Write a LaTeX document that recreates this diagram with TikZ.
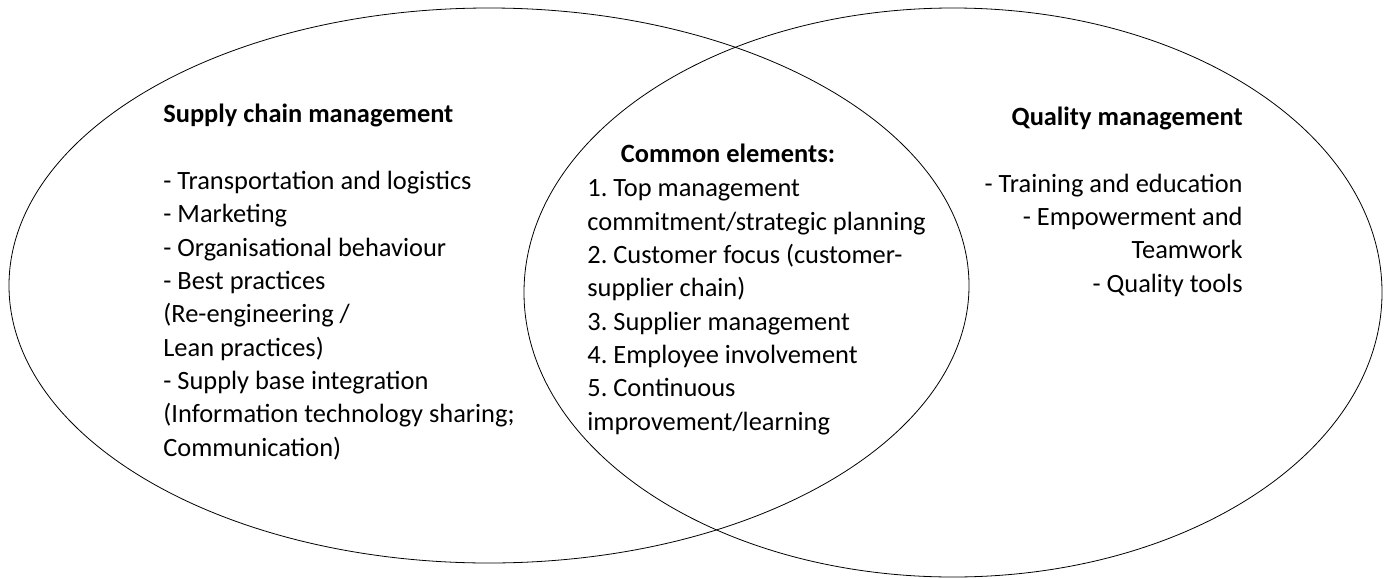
\documentclass[tikz,border=0pt]{standalone}
\usepackage{fontspec}
\setmainfont{Carlito}
\usepackage{tikz}
\frenchspacing

\begin{document}
\begin{tikzpicture}[x=0.75pt, y=-0.75pt, line width=0.6pt,
  txt/.style={inner sep=0pt, font=\fontsize{19.8}{25}\selectfont},
  hd/.style={txt, font=\fontsize{19.8}{25}\selectfont\bfseries}]
  \useasboundingbox (0,0) rectangle (1387,578);
  % the two sets
  \draw (489,285.5) ellipse [x radius=480, y radius=277.5];
  \draw (953,292.5) ellipse [x radius=429, y radius=284.5];
  % supply chain side (lists sit on the baseline of their last line)
  \node[hd, anchor=base west] (scm) at (163,122) {Supply chain management};
  \node[txt, anchor=base west, align=left] (scml) at (163,456)
    {- Transportation and logistics\\ - Marketing\\ - Organisational behaviour\\
     - Best practices\\ (Re-engineering /\\ Lean practices)\\ - Supply base integration\\
     (Information technology sharing;\\ Communication)};
  % overlap
  \node[hd, anchor=base] (com) at (728,162) {Common elements:};
  \node[txt, anchor=base west, align=left] (coml) at (587,430)
    {1. Top management\\ commitment/strategic planning\\ 2. Customer focus (customer-\\
     supplier chain)\\ 3. Supplier management\\ 4. Employee involvement\\ 5. Continuous\\
     improvement/learning};
  % quality side
  \node[hd, anchor=base east] (qm) at (1243,125) {Quality management};
  \node[txt, anchor=base east, align=right] (qml) at (1243,292)
    {- Training and education\\ - Empowerment and\\ Teamwork\\ - Quality tools};
\end{tikzpicture}
\end{document}
